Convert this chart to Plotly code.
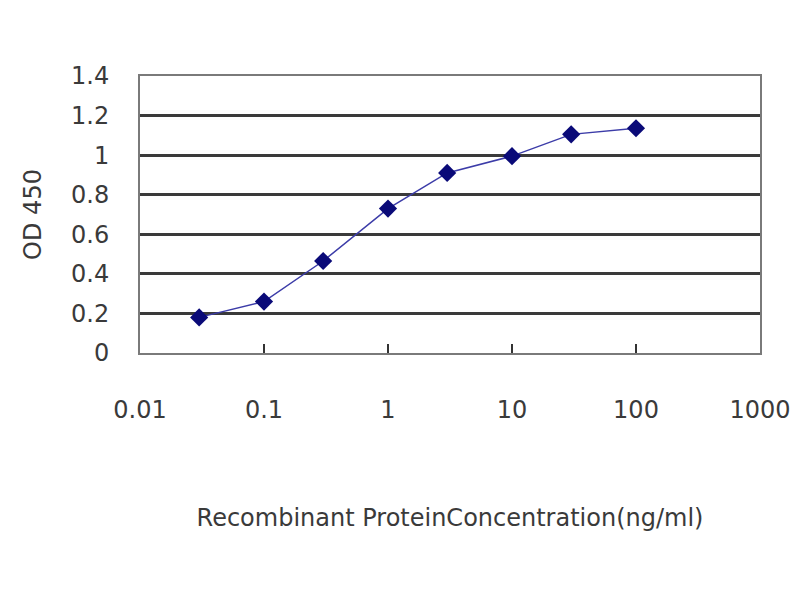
import plotly.graph_objects as go

concentration = [0.03, 0.1, 0.3, 1, 3, 10, 30, 100]
od450 = [0.18, 0.26, 0.465, 0.73, 0.91, 0.995, 1.105, 1.136]

x_ticks = [0.01, 0.1, 1, 10, 100, 1000]
x_tick_labels = ["0.01", "0.1", "1", "10", "100", "1000"]
y_ticks = [0, 0.2, 0.4, 0.6, 0.8, 1, 1.2, 1.4]
y_tick_labels = ["0", "0.2", "0.4", "0.6", "0.8", "1", "1.2", "1.4"]

fig = go.Figure()

fig.add_trace(
    go.Scatter(
        x=concentration, y=od450, mode="lines+markers",
        line=dict(color="#3c3ca8", width=1.5),
        marker=dict(symbol="diamond", size=14, color="#0a0a78"),
        showlegend=False,
    )
)

# page body adds ~8px, so margins are shifted a bit
fig.update_layout(
    width=800, height=600,
    margin=dict(l=132, r=48, t=68, b=255),
    paper_bgcolor="white", plot_bgcolor="white",
    font=dict(family="DejaVu Sans", color="#3a3a3a"),
)

fig.update_xaxes(
    type="log", range=[-2, 3],
    tickvals=x_ticks, ticktext=x_tick_labels,
    tickfont=dict(size=24),
    ticks="inside", ticklen=9, tickwidth=2, tickcolor="#333333",
    ticklabelstandoff=34,
    showgrid=False, zeroline=False,
    showline=True, linecolor="#7a7a7a", linewidth=2, mirror=True,
    title=dict(text="Recombinant ProteinConcentration(ng/ml)", font=dict(size=24), standoff=86),
)

fig.update_yaxes(
    range=[0, 1.4],
    tickvals=y_ticks, ticktext=y_tick_labels,
    tickfont=dict(size=24),
    ticks="", ticklabelstandoff=24,
    showgrid=True, gridcolor="#3a3a3a", gridwidth=3,
    zeroline=False,
    showline=True, linecolor="#7a7a7a", linewidth=2, mirror=True,
    title=dict(text="OD 450", font=dict(size=24), standoff=23),
)

fig.write_html("out.html")
